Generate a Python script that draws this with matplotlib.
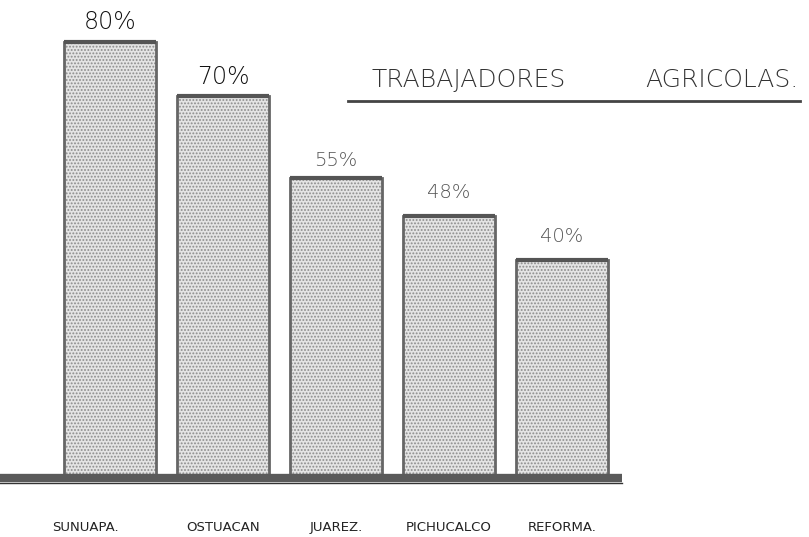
import numpy as np
import matplotlib.pyplot as plt

# datos del grafico
municipios = ['SUNUAPA.', 'OSTUACAN', 'JUAREZ.', 'PICHUCALCO', 'REFORMA.']
porcentajes = [80, 70, 55, 48, 40]
etiquetas = ['80%', '70%', '55%', '48%', '40%']
titulo = ['TRABAJADORES', 'AGRICOLAS.']

plt.rcParams['hatch.color'] = '#8c8c8c'
plt.rcParams['hatch.linewidth'] = 0.9

fig = plt.figure(figsize=(8.09, 5.37), dpi=100)
ax = fig.add_axes([0, 0, 1, 1])
ax.set_xlim(-0.973, 6.186)
ax.set_ylim(-10.83, 87.7)
ax.axis('off')

x = np.arange(len(municipios))

# relleno punteado y contorno
ax.bar(x, porcentajes, width=0.82, color='#e4e4e4', hatch='.....',
       edgecolor='#8c8c8c', linewidth=0)
ax.bar(x, porcentajes, width=0.82, fill=False, edgecolor='#666666', linewidth=2)
# borde superior mas oscuro
for xi, p in zip(x, porcentajes):
    ax.plot([xi - 0.41, xi + 0.41], [p, p], color='#555555', lw=3, solid_capstyle='butt')

# linea base
ax.plot([-0.973, 4.53], [0, 0], color='#5a5a5a', lw=6, solid_capstyle='butt')
ax.plot([-0.973, 4.53], [-1.0, -1.0], color='#333333', lw=1)

# porcentajes sobre las barras
for i, (xi, p, lab) in enumerate(zip(x, porcentajes, etiquetas)):
    grande = i < 2
    ax.annotate(lab, (xi, p), xytext=(0, 9 if i < 3 else 13), textcoords='offset points',
                ha='center', va='baseline',
                fontsize=17 if grande else 14,
                color='#111111' if grande else '#555555',
                fontweight='light')

# nombres debajo
for i, (xi, nom) in enumerate(zip(x, municipios)):
    dx = -0.22 if i == 0 else 0
    ax.text(xi + dx, -9.0, nom, ha='center', va='center', fontsize=9.5,
            color='#222222', family='DejaVu Sans')

# titulo subrayado
fig.text(372 / 809, 1 - 80 / 537, titulo[0], ha='left', va='center', fontsize=18,
         color='#333333', fontweight='light')
fig.text(798 / 809, 1 - 80 / 537, titulo[1], ha='right', va='center', fontsize=18,
         color='#333333', fontweight='light')
fig.add_artist(plt.Line2D([348 / 809, 800 / 809], [1 - 101 / 537, 1 - 101 / 537],
                          color='#444444', lw=2))

fig.savefig('out.png', dpi=100)
